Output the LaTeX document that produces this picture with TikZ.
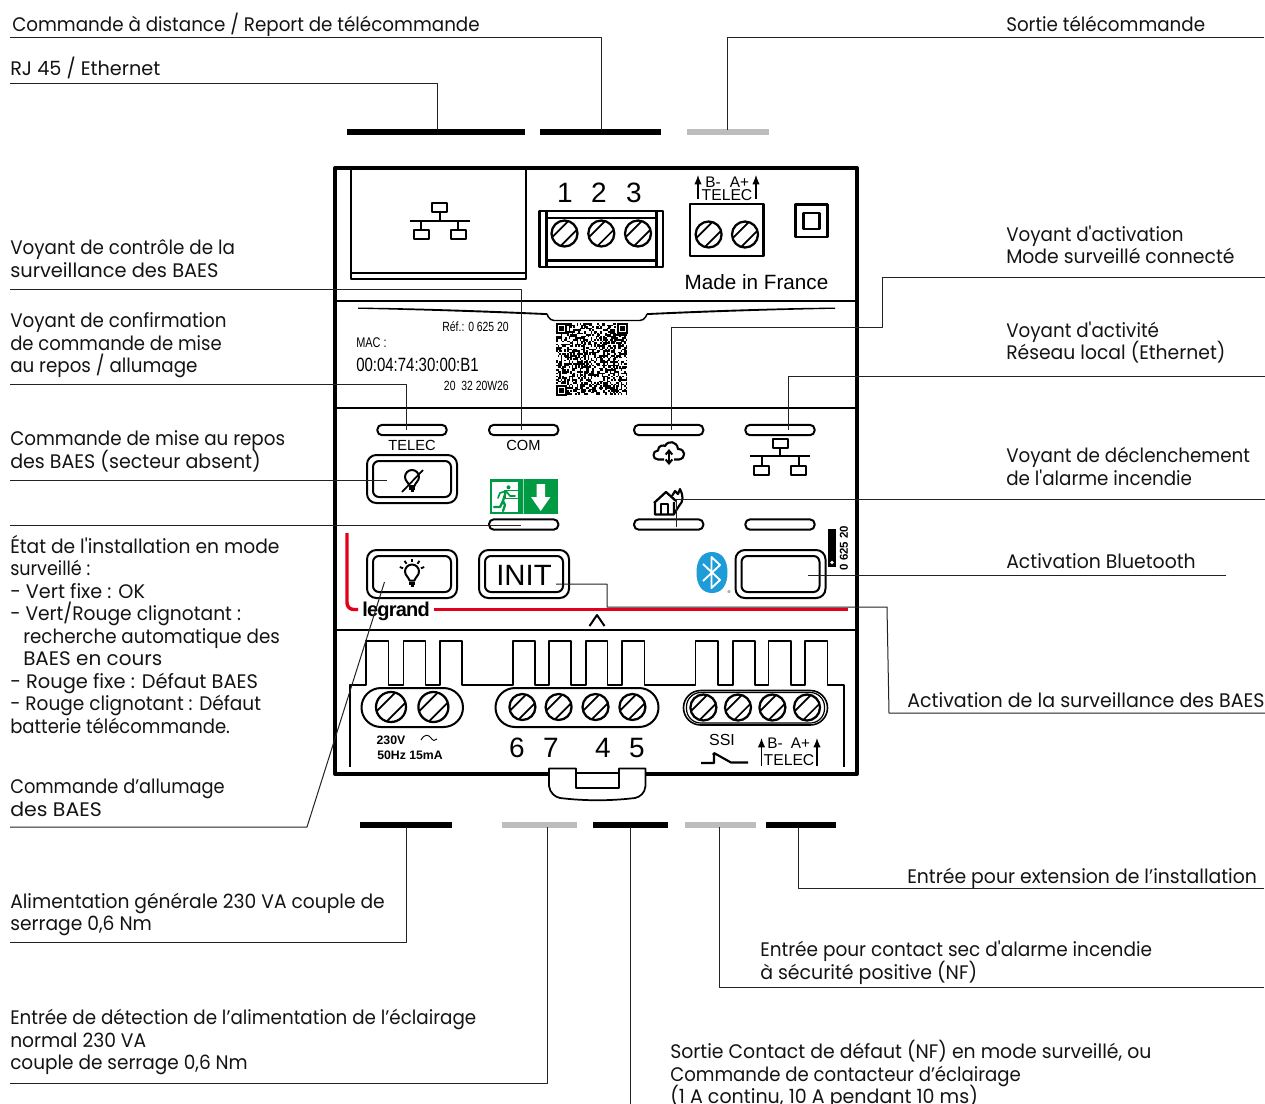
\documentclass[tikz,border=0pt]{standalone}
\usepackage{fontspec}
\usepackage{graphicx}
\usetikzlibrary{arrows.meta}
\setmainfont[FakeStretch=0.934,Ligatures=TeXOff]{Poppins}
\newfontfamily\arl{Liberation Sans}
\newfontfamily\cond[FakeStretch=0.78]{Liberation Sans}
\definecolor{lgred}{HTML}{E2001A}
\definecolor{lggreen}{HTML}{009A44}
\definecolor{lgblue}{HTML}{1E9CD7}
\definecolor{lggray}{HTML}{BDBDBD}
\definecolor{leadc}{HTML}{222222}
\newcommand\SX[2]{\scalebox{#1}[1]{#2}}
\newcommand\scr[3]{%
  \draw[line width=1.7pt] (#1,#2) circle (#3);
  \draw[line width=1.3pt] ({#1-#3*.95},{#2+#3*.28}) -- ({#1+#3*.28},{#2-#3*.95});
  \draw[line width=1.3pt] ({#1-#3*.28},{#2+#3*.95}) -- ({#1+#3*.95},{#2-#3*.28});
}
\newcommand\btn[4]{%
  \draw[line width=1.5pt,rounded corners=7pt] (#1,#2) rectangle (#3,#4);
  \draw[line width=1.5pt,rounded corners=4.5pt] ({#1+6},{#2+6}) rectangle ({#3-6},{#4-6});
}
\newcommand\netic[2]{% x y of centre line
  \draw[line width=1.6pt] ({#1-30},#2) -- ({#1+30},#2);
  \draw[line width=1.5pt] ({#1-7.5},{#2-17.5}) rectangle ({#1+7.5},{#2-8.5});
  \draw[line width=1.5pt] (#1,{#2-8.5}) -- (#1,#2);
  \draw[line width=1.5pt] ({#1-26},{#2+9.5}) rectangle ({#1-11},{#2+18.5});
  \draw[line width=1.5pt] ({#1+11},{#2+9.5}) rectangle ({#1+26},{#2+18.5});
  \draw[line width=1.5pt] ({#1-18.5},#2) -- ({#1-18.5},{#2+9.5});
  \draw[line width=1.5pt] ({#1+18.5},#2) -- ({#1+18.5},{#2+9.5});
}
\newcommand\lamp[2]{% centre of the glass
  \draw[line width=1.5pt] ({#1-2.5},{#2+8}) .. controls ({#1-3},{#2+5}) and ({#1-7},{#2+3}) .. ({#1-7},{#2-1})
     .. controls ({#1-7},{#2-4.9}) and ({#1-3.9},{#2-8}) .. (#1,{#2-8})
     .. controls ({#1+3.9},{#2-8}) and ({#1+7},{#2-4.9}) .. ({#1+7},{#2-1})
     .. controls ({#1+7},{#2+3}) and ({#1+3},{#2+5}) .. ({#1+2.5},{#2+8}) -- cycle;
  \fill ({#1-2.7},{#2+9.2}) rectangle ({#1+2.7},{#2+12});
  \fill ({#1-1.5},{#2+12}) rectangle ({#1+1.5},{#2+14});
}
\newcommand\rays[2]{%
  \foreach \a in {20,55,90,125,160}{
    \draw[line width=1.4pt] ({#1+9.5*cos(\a)},{#2-1-9.5*sin(\a)}) -- ({#1+13*cos(\a)},{#2-1-13*sin(\a)});
  }
}
\tikzset{
  lbl/.style={anchor=west,inner sep=0pt,align=left,font=\fontsize{14.7}{16.9}\selectfont,text=black!92,
    execute at begin node={\vrule width 0pt height 14pt\relax},execute at end node={\vrule width 0pt depth 5pt\relax}},
  lead/.style={draw=leadc,line width=.75pt},
  thick line/.style={line width=1.6pt},
  bar/.style={line width=3.8pt},
  led/.style={draw,line width=1.5pt,rounded corners=3.6pt,minimum width=52pt,minimum height=7.8pt,inner sep=0pt},
  ar/.style={inner sep=0pt,font=\arl\fontsize{#1}{#1}\selectfont},
  arw/.style={line width=.9pt,-{Latex[length=7pt,width=5.5pt]}},
}
\begin{document}
\begin{tikzpicture}[x=.75pt,y=-.75pt,line join=round]
\lineskiplimit=-30pt\relax
\useasboundingbox (0,0) rectangle (1265,1104);
\fill[white] (0,0) rectangle (1265,1104);
% bars top
\draw[bar] (347,132) -- (525,132);
\draw[bar] (540,132) -- (661,132);
\draw[bar,lggray] (687,132) -- (769,132);
% casing
\draw[line width=3pt] (335,168) -- (857,168) -- (857,774) -- (335,774) -- cycle;
\draw[thick line] (335,301) -- (857,301);
\draw[thick line] (335,408) -- (857,408);
\draw[thick line] (335,630) -- (857,630);
% RJ45
\draw[line width=1.5pt] (351,168) -- (351,279) -- (525.5,279) -- (525.5,168);
\draw[line width=1.5pt] (351,272.5) -- (525.5,272.5);
\netic{439.5}{220.7}
% terminal 123
\draw[thick line] (539.5,211) rectangle (663,267);
\draw[thick line] (546.5,211) -- (546.5,267) (656.5,211) -- (656.5,267);
\draw[thick line] (546.5,218) -- (656.5,218) (546.5,260.5) -- (656.5,260.5);
\scr{564.5}{233.5}{13}\scr{601.3}{233.5}{13}\scr{638}{233.5}{13}
\node[ar=21] (n1) at (565,193) {1};
\node[ar=21] (n2) at (599,193) {2};
\node[ar=21] (n3) at (634,193) {3};
% telec
\draw[thick line] (690,204) rectangle (763.5,256);
\scr{708.6}{234.5}{13}\scr{745}{234.5}{13}
\node[ar=11.5] (tb) at (713,182) {B-};
\node[ar=11.5] (ta) at (739.5,182) {A+};
\node[ar=11.8] (tt) at (727,195.5) {TELEC};
\draw[arw] (698,199) -- (698,175);
\draw[arw] (756,199) -- (756,175);
\draw[thick line] (795.5,204.5) rectangle (827.5,237);
\draw[thick line] (803.5,213) rectangle (819.5,229);
\node[ar=15.5] (mif) at (756.5,282) {Made in France};
% taper line and notch
\fill (358,307.6) .. controls (420,308) and (500,311) .. (547,313.2) -- (547,315) .. controls (500,313) and (420,310) .. (358,308.8) -- cycle;
\fill (835,307.6) .. controls (770,308) and (690,311) .. (647,313.2) -- (647,315) .. controls (690,313) and (770,310) .. (835,308.8) -- cycle;
\draw[line width=1.1pt,rounded corners=3pt] (547,314) -- (550,320.5) -- (644,320.5) -- (647,314);
% data plate
\node[inner sep=0pt,anchor=east,font=\cond\fontsize{10}{10}\selectfont] (ref) at (509,327) {Réf.: 0 625 20};
\node[inner sep=0pt,anchor=west,font=\cond\fontsize{10.5}{10.5}\selectfont] (mac) at (356,343) {MAC :};
\node[inner sep=0pt,anchor=west,font=\cond\fontsize{14.4}{14.4}\selectfont] (macv) at (356,365) {00:04:74:30:00:B1};
\node[inner sep=0pt,anchor=east,font=\cond\fontsize{10}{10}\selectfont] (dat) at (509,386) {20\ \ 32 20W26};
% QR
\pgfmathsetseed{11}
\foreach \i in {0,...,44}{\foreach \j in {0,...,44}{
  \pgfmathrandominteger{\q}{0}{99}
  \ifnum\q<50 \fill ({556+\i*1.58},{323+\j*1.6}) rectangle +(1.65,1.65);\fi
}}
\foreach \cx/\cy in {556/323,617/323,556/385}{
  \fill[white] ({\cx-1},{\cy-1}) rectangle +(12,12);
  \fill (\cx,\cy) rectangle +(10.5,10.5);
  \fill[white] ({\cx+1.6},{\cy+1.6}) rectangle +(7.3,7.3);
  \fill ({\cx+3},{\cy+3}) rectangle +(4.5,4.5);
}
% LEDs
\node[led] (l1) at (412,430) {};
\node[led] (l2) at (523.7,430) {};
\node[led] (l3) at (668.7,430) {};
\node[led] (l4) at (780,430) {};
\node[led] (l5) at (523.7,524.5) {};
\node[led] (l6) at (668.7,524.5) {};
\node[led] (l7) at (780,524.5) {};
\node[ar=11] (tl) at (412,445) {TELEC};
\node[ar=11] (cm) at (523.5,445) {COM};
% cloud
\draw[line width=1.6pt] (664,459.5) -- (658,459.5) .. controls (652,459.5) and (652,450.5) .. (658,450.5)
  .. controls (658,445) and (664,445) .. (665,446) .. controls (668,440) and (677,441) .. (678,449)
  .. controls (686,449) and (686,458.5) .. (679,459.5) -- (674,459.5);
\draw[line width=1.5pt,{Straight Barb[length=3pt,width=5pt]}-{Straight Barb[length=3pt,width=5pt]}] (669,449) -- (669,465);
\netic{780}{456}
% button 1
\btn{367}{455}{457}{503}
\lamp{412}{478}
\draw[line width=1.3pt] (402,492) -- (423,470);
% exit sign
\fill[lggreen] (489.5,479) rectangle (558,514);
\draw[white!60!lggreen,line width=.5pt] (523.5,479) -- (523.5,514);
\fill[white] (492,481.5) rectangle (517.5,512);
\fill[lggreen] (504,489.5) rectangle (517.5,499);
\fill[white] (505.5,491) rectangle (517.5,497.5);
\fill[lggreen] (508.5,487.3) circle (2);
\draw[lggreen,line width=1.7pt,line cap=round] (506,491) -- (503,501) -- (505,505) -- (503,511);
\draw[lggreen,line width=1.7pt,line cap=round] (503,501) -- (500,507) -- (494,507);
\draw[lggreen,line width=1.2pt,line cap=round] (506,491) -- (500,493) -- (498,498);
\draw[lggreen,line width=1.2pt,line cap=round] (506,491) -- (510,496) -- (515,496);
\fill[white] (536.5,484) -- (545,484) -- (545,497) -- (550.5,497) -- (540.7,511) -- (531,497) -- (536.5,497) -- cycle;
% house
\draw[line width=1.7pt] (655,503) -- (655,514.5) -- (674,514.5) -- (674,502) (654,503) -- (666,492) -- (676,501);
\draw[line width=1.5pt] (660.5,514.5) -- (660.5,504) -- (668,504) -- (668,514.5);
\draw[line width=1.6pt] (674,514) -- (679,506) .. controls (684,501) and (683,495) .. (680,489) -- (678,494) -- (675,491) -- (672,496);
% row 2 buttons
\btn{367}{550}{457}{598}
\lamp{412}{572.5}
\rays{412}{572.5}
\btn{479}{550}{569}{598}
\node[ar=22] (init) at (524,575) {INIT};
\btn{735.5}{550}{825.5}{598}
% bluetooth
\fill[lgblue] (712,552) .. controls (722,552) and (727.5,560) .. (727.5,572.5) .. controls (727.5,585) and (722,593) .. (712,593)
   .. controls (702,593) and (696.5,585) .. (696.5,572.5) .. controls (696.5,560) and (702,552) .. (712,552) -- cycle;
\draw[white,line width=1.4pt] (703,564) -- (720,580) -- (711.5,588) -- (711.5,557) -- (720,565) -- (703,581);
\node[ar=3] (reg) at (729,592) {®};
% small reference
\fill (828,529) rectangle (836,567);
\fill[white] (832,562.5) circle (1.8);
\node[inner sep=0pt,font=\arl\bfseries\fontsize{8.6}{8.6}\selectfont,rotate=90] (rf2) at (844,548) {0 625 20};
% red line, logo
\draw[lgred,line width=2.6pt,rounded corners=5pt] (347,533) -- (347,609.5) -- (358,609.5);
\draw[lgred,line width=2.8pt] (433.5,609.5) -- (848,609.5);
\node[inner sep=0pt,font=\arl\bfseries\fontsize{15}{15}\selectfont] (logo) at (396,611) {\addfontfeature{LetterSpace=-4}legrand};
\draw[line width=1.5pt] (589.5,626) -- (597,615) -- (604.5,626);
% terminals
\draw[line width=1.2pt] (350,767) -- (350,685) -- (366,685) -- (366,641) -- (388.5,641) -- (388.5,685) -- (403.5,685) -- (403.5,641) -- (425.5,641) -- (425.5,685) -- (440,685) -- (440,641) -- (462,641) -- (462,685)
 -- (513,685) -- (513,641) -- (535,641) -- (535,685) -- (549,685) -- (549,641) -- (571,641) -- (571,685) -- (586,685) -- (586,641) -- (607.5,641) -- (607.5,685) -- (622,685) -- (622,641) -- (644.5,641) -- (644.5,685)
 -- (695.5,685) -- (695.5,641) -- (718,641) -- (718,685) -- (733,685) -- (733,641) -- (755,641) -- (755,685) -- (768.5,685) -- (768.5,641) -- (791,641) -- (791,685) -- (805,685) -- (805,641) -- (827.5,641) -- (827.5,685) -- (844,685) -- (844,767);
\draw[line width=1.5pt,fill=white,rounded corners=14.6pt] (361.5,688) rectangle (463,727);
\scr{391}{707}{15}\scr{433.4}{707}{15}
\draw[line width=1.5pt,fill=white,rounded corners=14.6pt] (495.5,688) rectangle (658.5,727);
\scr{522.4}{707}{13}\scr{558.6}{707}{13}\scr{595.5}{707}{13}\scr{632.4}{707}{13}
\draw[line width=1.2pt,fill=white,rounded corners=12.9pt] (683.5,690.5) rectangle (827.5,725);
\draw[line width=.9pt,rounded corners=10.7pt] (686.5,692.5) rectangle (824.5,723);
\scr{703.4}{707.5}{13}\scr{738}{707.5}{13}\scr{772.4}{707.5}{13}\scr{807}{707.5}{13}
\node[inner sep=0pt,font=\arl\bfseries\fontsize{9.2}{9.2}\selectfont] (v1) at (391,740) {230V};
\node[inner sep=0pt,font=\arl\bfseries\fontsize{9.2}{9.2}\selectfont] (v2) at (410,755.5) {50Hz 15mA};
\draw[line width=.7pt] (421,740) .. controls (425,733) and (429,735) .. (431,738) .. controls (433,741) and (435,741) .. (437,739);
\node[ar=21] (d6) at (517,748) {6};
\node[ar=21] (d7) at (551,748) {7};
\node[ar=21] (d4) at (603,748) {4};
\node[ar=21] (d5) at (637,748) {5};
\node[ar=12] (ssi) at (722,740) {SSI};
\draw[line width=1.6pt] (701,763) -- (714,763) -- (714,754) (714,753) -- (731,762.5) -- (748,762.5);
\fill (714,754) circle (1.8);
\node[ar=11.5] (bb) at (775,743) {B-};
\node[ar=11.5] (ba) at (800.5,743) {A+};
\node[ar=11.8] (bt) at (789,760.5) {TELEC};
\draw[arw] (761.5,766) -- (761.5,738);
\draw[arw] (817,766) -- (817,738);
% clip
\fill[white] (551,772) rectangle (644,776);
\draw[line width=1.3pt,fill=white] (549,768.5) -- (549,786) .. controls (550,793) and (555,797) .. (560,798) .. controls (585,801) and (610,801) .. (635,798) .. controls (640,797) and (645,793) .. (645.5,786) -- (645.5,768.5) -- (619,768.5) -- (619,788) -- (576,788) -- (576,768.5) -- cycle;
\draw[line width=1.2pt] (576,773) -- (619,773);
% bars bottom
\draw[bar] (360,825) -- (452,825);
\draw[bar,lggray] (501.5,825) -- (576.5,825);
\draw[bar] (593,825) -- (668,825);
\draw[bar,lggray] (685,825) -- (756,825);
\draw[bar] (765.5,825) -- (836,825);
% labels
\node[lbl] (t1) at (12,25.5) {Commande à distance / Report de télécommande};
\node[lbl] (t2) at (10,69) {\SX{1.05}{RJ 45 / Ethernet}};
\node[lbl] (t3) at (1006,25.5) {Sortie télécommande};
\node[lbl] (t4) at (10,262) {Voyant de contrôle de la\\\SX{1.06}{surveillance des BAES}};
\node[lbl] (t5) at (10,346) {Voyant de confirmation\\\SX{.985}{de commande de mise}\\au repos / allumage};
\node[lbl] (t6) at (10,453) {Commande de mise au repos\\\SX{1.04}{des BAES (secteur absent)}};
\node[lbl] (t7) at (10,637.5) {\SX{1.02}{État de l'installation en mode}\\\SX{.96}{surveillé :}\\\SX{1.05}{- Vert fixe : OK}\\\SX{1.02}{- Vert/Rouge clignotant :}\\\hspace*{9.75pt}recherche automatique des\\\hspace*{9.75pt}\SX{1.09}{BAES en cours}\\\SX{1.06}{- Rouge fixe : Défaut BAES}\\\SX{1.012}{- Rouge clignotant : Défaut}\\\SX{.985}{batterie télécommande.}};
\node[lbl] (t8) at (10,801) {\SX{.972}{Commande d’allumage}\\\SX{1.12}{des BAES}};
\node[lbl] (t9) at (10,915) {\SX{1.02}{Alimentation générale 230 VA couple de}\\\SX{1.02}{serrage 0,6 Nm}};
\node[lbl] (t10) at (10,1043) {Entrée de détection de l’alimentation de l’éclairage\\\SX{1.02}{normal 230 VA}\\\SX{1.01}{couple de serrage 0,6 Nm}};
\node[lbl] (t11) at (670,1075.5) {\SX{1.03}{Sortie Contact de défaut (NF) en mode surveillé, ou}\\\SX{.99}{Commande de contacteur d’éclairage}\\\SX{1.04}{(1 A continu, 10 A pendant 10 ms)}};
\node[lbl] (t12) at (760,963.5) {\SX{1.01}{Entrée pour contact sec d'alarme incendie}\\\SX{1.034}{à sécurité positive (NF)}};
\node[lbl] (t13) at (907,877) {\SX{1.029}{Entrée pour extension de l’installation}};
\node[lbl] (t14) at (907,701) {\SX{1.04}{Activation de la surveillance des BAES}};
\node[lbl] (t15) at (1006,562) {\SX{1.03}{Activation Bluetooth}};
\node[lbl] (t16) at (1006,469.5) {Voyant de déclenchement\\de l'alarme incendie};
\node[lbl] (t17) at (1006,344) {Voyant d'activité\\\SX{1.025}{Réseau local (Ethernet)}};
\node[lbl] (t18) at (1006,248) {Voyant d'activation\\\SX{1.027}{Mode surveillé connecté}};
% connector ends
\coordinate (e1a) at (10,37); \coordinate (e1b) at (601,130);
\coordinate (e2a) at (10,83); \coordinate (e2b) at (437,130);
\coordinate (e3a) at (1264,37); \coordinate (e3b) at (727,130);
\coordinate (e4a) at (10,289); \coordinate (e4b) at (521,430);
\coordinate (e5a) at (10,384); \coordinate (e5b) at (406,430);
\coordinate (e6a) at (10,480); \coordinate (e6b) at (387,480);
\coordinate (e7a) at (10,525); \coordinate (e7b) at (521,525);
\coordinate (e8a) at (10,827); \coordinate (e8m) at (307,827); \coordinate (e8b) at (384.5,582);
\coordinate (e9a) at (10,942); \coordinate (e9b) at (406,827);
\coordinate (e10a) at (10,1083); \coordinate (e10b) at (547,827);
\coordinate (e11a) at (630,827); \coordinate (e11b) at (630,1104);
\coordinate (e12a) at (719,827); \coordinate (e12b) at (1264,987);
\coordinate (e13a) at (798,827); \coordinate (e13b) at (1264,888);
\coordinate (e14a) at (556,584); \coordinate (e14m) at (607,584); \coordinate (e14n) at (607,607); \coordinate (e14o) at (887,607); \coordinate (e14p) at (889,713); \coordinate (e14b) at (1265,713);
\coordinate (e15a) at (1226,575); \coordinate (e15b) at (808,575);
\coordinate (e16a) at (1265,499); \coordinate (e16b) at (676,527);
\coordinate (e17a) at (1265,376); \coordinate (e17b) at (788,430);
\coordinate (e18a) at (1265,277); \coordinate (e18m) at (882,327); \coordinate (e18b) at (671,430);
\draw[lead] (e1a) -| (e1b);
\draw[lead] (e2a) -| (e2b);
\draw[lead] (e3a) -| (e3b);
\draw[lead] (e4a) -| (e4b);
\draw[lead] (e5a) -| (e5b);
\draw[lead] (e6a) -- (e6b);
\draw[lead] (e7a) -- (e7b);
\draw[lead] (e8a) -- (e8m) -- (e8b);
\draw[lead] (e9a) -| (e9b);
\draw[lead] (e10a) -| (e10b);
\draw[lead] (e11a) -- (e11b);
\draw[lead] (e12a) |- (e12b);
\draw[lead] (e13a) |- (e13b);
\draw[lead] (e14a) -- (e14m) -- (e14n) -- (e14o) -- (e14p) -- (e14b);
\draw[lead] (e15a) -- (e15b);
\draw[lead] (e16a) -| (e16b);
\draw[lead] (e17a) -| (e17b);
\draw[lead] (e18a) -| (e18m) -| (e18b);
\end{tikzpicture}
\end{document}
